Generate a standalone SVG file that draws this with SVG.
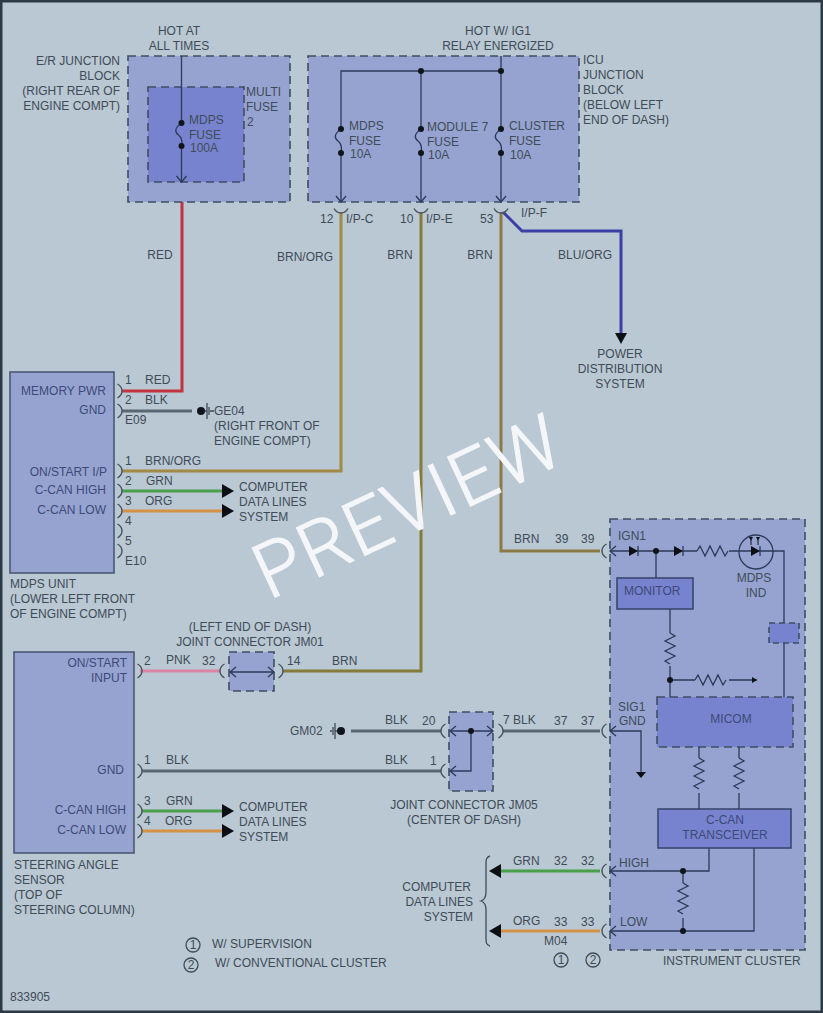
<svg xmlns="http://www.w3.org/2000/svg" width="823" height="1013" viewBox="0 0 823 1013">
<style>
text{font-family:"Liberation Sans",Arial,sans-serif;font-size:12px;fill:#3f4b58}
.b{fill:#3d4a78}
.m{text-anchor:middle}
.e{text-anchor:end}
.o{fill:#96a3d0;stroke:#3f4d63;stroke-width:1.6;stroke-dasharray:8 5}
.i{fill:#7783cf;stroke:#3f4d63;stroke-width:1.6;stroke-dasharray:8 5}
.s{fill:#96a3d0;stroke:#4a5873;stroke-width:1.6}
.x{fill:#7783cf;stroke:#3a4870;stroke-width:1.6}
.l{fill:none;stroke:#2c3a58;stroke-width:1.3}
.c{fill:none;stroke:#46525e;stroke-width:1.4}
.w{fill:none;stroke-width:3}
.d{fill:#10151d}
.a{fill:#0c1014}
.t{fill:none;stroke:#3f4b58;stroke-width:1.3}
</style>
<defs>
<path id="capL" class="c" d="M3.500 -7C0 -5 -1 -2 -1 0C-1 2 0 5 3.500 7"/>
<path id="capR" class="c" d="M-3.500 -7C0 -5 1 -2 1 0C1 2 0 5 -3.500 7"/>
<path id="cup" class="c" d="M-7 -3.500C-5 0 -2 1 0 1C2 1 5 0 7 -3.500"/>
<path id="chD" class="l" d="M-5 -6L0 0L5 -6"/>
<path id="chL" class="l" d="M6 -5L0 0L6 5"/>
<path id="chR" class="l" d="M-6 -5L0 0L-6 5"/>
<path id="fuse" class="l" d="M0 0C-7 5 -7 9 -3 12C1 15 1 19 0 24"/>
<path id="resH" class="l" d="M0 0l3 -5l5 10l5 -10l5 10l5 -10l5 10l3 -5"/>
<path id="resV" class="l" d="M0 0l5 3l-10 5l10 5l-10 5l10 5l-10 5l5 3"/>
<path id="arR" class="a" d="M0 -7L12 0L0 7Z"/>
<path id="arL" class="a" d="M0 -7L-12 0L0 7Z"/>
</defs>
<rect x="1" y="1" width="821" height="1011" fill="#b9c8d2" stroke="#2d3945" stroke-width="3"/>

<g id="connectors">
<path class="w" stroke="#c0333f" d="M182 192V391H122"/>
<path class="w" stroke="#a08a45" d="M341 212V471H122"/>
<path class="w" stroke="#857b3a" d="M421 212V671H283"/>
<path class="w" stroke="#8c7a45" d="M501 212V551H600"/>
<path class="w" stroke="#3b3fa5" d="M503 212L522 231H621V334"/>
<path class="w" stroke="#5a6670" d="M122 411H192"/>
<path class="w" stroke="#4aa04a" d="M122 491H222"/>
<path class="w" stroke="#d39245" d="M122 511H222"/>
<path class="w" stroke="#d884a5" d="M140 671H220"/>
<path class="w" stroke="#5a6670" d="M351 731H441"/>
<path class="w" stroke="#5a6670" d="M142 771H441"/>
<path class="w" stroke="#5a6670" d="M503 731H600"/>
<path class="w" stroke="#4aa04a" d="M142 811H222"/>
<path class="w" stroke="#d39245" d="M142 831H222"/>
<path class="w" stroke="#4aa04a" d="M501 871H600"/>
<path class="w" stroke="#d39245" d="M501 931H600"/>
<use href="#arR" x="222" y="491"/><use href="#arR" x="222" y="511"/>
<use href="#arR" x="222" y="811"/><use href="#arR" x="222" y="831"/>
<use href="#arL" x="501" y="871"/><use href="#arL" x="501" y="931"/>
<path class="a" d="M615 333H627L621 344Z"/>
<use href="#capR" x="121" y="391"/><use href="#capR" x="121" y="411"/>
<use href="#capR" x="121" y="471"/><use href="#capR" x="121" y="491"/><use href="#capR" x="121" y="511"/><use href="#capR" x="121" y="531"/><use href="#capR" x="121" y="551"/>
<use href="#capR" x="141" y="671"/><use href="#capR" x="141" y="771"/><use href="#capR" x="141" y="811"/><use href="#capR" x="141" y="831"/>
<use href="#capL" x="221" y="671"/><use href="#capR" x="282" y="671"/>
<use href="#capL" x="442" y="731"/><use href="#capL" x="442" y="771"/><use href="#capR" x="502" y="731"/>
<use href="#capL" x="603" y="551"/><use href="#capL" x="603" y="731"/><use href="#capL" x="603" y="871"/><use href="#capL" x="603" y="931"/>
<use href="#cup" x="182" y="192"/><use href="#cup" x="341" y="212"/><use href="#cup" x="421" y="212"/><use href="#cup" x="501" y="212"/>
</g>

<g id="er-junction-block">
<rect class="o" x="128" y="56" width="162" height="146"/>
<rect class="i" x="148" y="87" width="96" height="95"/>
<path class="l" d="M181.500 56V123M181.500 146V182"/>
<use href="#fuse" x="181.500" y="123"/><use href="#chD" x="181.500" y="182"/>
<circle class="d" cx="181.500" cy="123" r="3"/><circle class="d" cx="181.500" cy="146" r="3"/>
<text x="189" y="124">MDPS</text><text x="189" y="139">FUSE</text><text x="190" y="152">100A</text>
<text x="246" y="96">MULTI</text><text x="246" y="111">FUSE</text><text x="247" y="126">2</text>
<text class="e" x="120" y="65">E/R JUNCTION</text><text class="e" x="120" y="80">BLOCK</text><text class="e" x="120" y="95">(RIGHT REAR OF</text><text class="e" x="120" y="110">ENGINE COMPT)</text>
<text class="m" x="179" y="35">HOT AT</text><text class="m" x="179" y="50">ALL TIMES</text>
</g>

<g id="icu-junction-block">
<rect class="o" x="308" y="56" width="271" height="146"/>
<path class="l" d="M501 56V129M341 202V153M341 129V71H501M421 71V129M421 153V202M501 153V202"/>
<use href="#fuse" x="341" y="129"/><use href="#fuse" x="421" y="129"/><use href="#fuse" x="501" y="129"/>
<use href="#chD" x="341" y="202"/><use href="#chD" x="421" y="202"/><use href="#chD" x="501" y="202"/>
<circle class="d" cx="421" cy="71" r="3"/><circle class="d" cx="501" cy="71" r="3"/>
<circle class="d" cx="341" cy="129" r="3"/><circle class="d" cx="341" cy="153" r="3"/><circle class="d" cx="421" cy="129" r="3"/><circle class="d" cx="421" cy="153" r="3"/><circle class="d" cx="501" cy="129" r="3"/><circle class="d" cx="501" cy="153" r="3"/>
<text x="349" y="130">MDPS</text><text x="349" y="145">FUSE</text><text x="350" y="158">10A</text>
<text x="427" y="131">MODULE 7</text><text x="427" y="146">FUSE</text><text x="428" y="159">10A</text>
<text x="509" y="130">CLUSTER</text><text x="509" y="145">FUSE</text><text x="510" y="159">10A</text>
<text x="583" y="64">ICU</text><text x="583" y="79">JUNCTION</text><text x="583" y="94">BLOCK</text><text x="583" y="109">(BELOW LEFT</text><text x="583" y="124">END OF DASH)</text>
<text class="m" x="498" y="35">HOT W/ IG1</text><text class="m" x="498" y="50">RELAY ENERGIZED</text>
<text x="320" y="223">12</text><text x="346" y="223">I/P-C</text><text x="400" y="223">10</text><text x="426" y="223">I/P-E</text><text x="480" y="223">53</text><text x="521" y="217">I/P-F</text>
</g>

<g id="wire-labels">
<text class="m" x="160" y="259">RED</text><text class="m" x="305" y="261">BRN/ORG</text><text class="m" x="400" y="259">BRN</text><text class="m" x="480" y="259">BRN</text><text class="m" x="585" y="259">BLU/ORG</text>
<text class="m" x="620" y="358">POWER</text><text class="m" x="620" y="373">DISTRIBUTION</text><text class="m" x="620" y="388">SYSTEM</text>
<text x="514" y="543">BRN</text><text x="555" y="543">39</text><text x="581" y="543">39</text>
</g>

<g id="mdps-unit">
<rect class="s" x="10" y="372" width="104" height="201"/>
<text class="e b" x="106" y="395">MEMORY PWR</text><text class="e b" x="106" y="414">GND</text><text class="e b" x="107" y="476">ON/START I/P</text><text class="e b" x="106" y="494">C-CAN HIGH</text><text class="e b" x="106" y="514">C-CAN LOW</text>
<text x="10" y="588">MDPS UNIT</text><text x="10" y="603">(LOWER LEFT FRONT</text><text x="10" y="618">OF ENGINE COMPT)</text>
<text x="125" y="384">1</text><text x="145" y="384">RED</text><text x="125" y="404">2</text><text x="145" y="404">BLK</text><text x="125" y="424">E09</text>
<text x="125" y="465">1</text><text x="145" y="465">BRN/ORG</text><text x="125" y="485">2</text><text x="146" y="485">GRN</text><text x="125" y="505">3</text><text x="145" y="505">ORG</text><text x="125" y="525">4</text><text x="125" y="545">5</text><text x="125" y="565">E10</text>
<text x="239" y="491">COMPUTER</text><text x="239" y="506">DATA LINES</text><text x="239" y="521">SYSTEM</text>
</g>

<g id="ground-ge04">
<circle class="d" cx="201" cy="411" r="4"/>
<path class="t" d="M205 411H207M207 403V419M209 407V415M210 411H214"/>
<text x="214" y="415">GE04</text><text x="214" y="430">(RIGHT FRONT OF</text><text x="214" y="445">ENGINE COMPT)</text>
</g>

<g id="steering-angle-sensor">
<rect class="s" x="14" y="652" width="120" height="201"/>
<text class="e b" x="127" y="667">ON/START</text><text class="e b" x="127" y="682">INPUT</text><text class="e b" x="124" y="774">GND</text><text class="e b" x="126" y="814">C-CAN HIGH</text><text class="e b" x="126" y="834">C-CAN LOW</text>
<text x="14" y="869">STEERING ANGLE</text><text x="14" y="884">SENSOR</text><text x="14" y="899">(TOP OF</text><text x="14" y="914">STEERING COLUMN)</text>
<text x="144" y="665">2</text><text x="166" y="664">PNK</text><text x="202" y="665">32</text>
<text x="144" y="764">1</text><text x="166" y="764">BLK</text><text x="144" y="805">3</text><text x="166" y="805">GRN</text><text x="144" y="825">4</text><text x="165" y="825">ORG</text>
<text x="239" y="811">COMPUTER</text><text x="239" y="826">DATA LINES</text><text x="239" y="841">SYSTEM</text>
</g>

<g id="joint-connector-jm01">
<rect class="o" x="229" y="652" width="45" height="39"/>
<path class="l" d="M230 672H274"/><use href="#chL" x="230" y="672"/><use href="#chR" x="274" y="672"/>
<text class="m" x="250" y="631">(LEFT END OF DASH)</text><text class="m" x="250" y="646">JOINT CONNECTOR JM01</text>
<text x="287" y="665">14</text><text x="332" y="665">BRN</text>
</g>

<g id="ground-gm02">
<circle class="d" cx="341" cy="731" r="4"/>
<path class="t" d="M337 731H335M335 723V739M333 727V735M332 731H330"/>
<text x="290" y="735">GM02</text>
</g>

<g id="joint-connector-jm05">
<rect class="o" x="449" y="712" width="44" height="79"/>
<path class="l" d="M450 731H493M471 731V771H450"/>
<use href="#chL" x="450" y="731"/><use href="#chR" x="493" y="731"/><use href="#chL" x="450" y="771"/>
<circle class="d" cx="471" cy="731" r="3"/>
<text x="385" y="724">BLK</text><text x="422" y="725">20</text><text x="385" y="764">BLK</text><text x="430" y="765">1</text>
<text x="503" y="724">7 BLK</text><text x="554" y="725">37</text><text x="581" y="725">37</text>
<text class="m" x="464" y="809">JOINT CONNECTOR JM05</text><text class="m" x="464" y="824">(CENTER OF DASH)</text>
</g>

<g id="computer-data-lines-right">
<path class="t" d="M490 856C486 857 486 860 486 864V892C486 897 484 900 481 901C484 902 486 905 486 910V938C486 942 486 945 490 946"/>
<text class="e" x="471" y="891">COMPUTER</text><text class="e" x="473" y="906">DATA LINES</text><text class="e" x="473" y="921">SYSTEM</text>
<text x="513" y="865">GRN</text><text x="554" y="865">32</text><text x="581" y="865">32</text>
<text x="513" y="925">ORG</text><text x="554" y="926">33</text><text x="581" y="926">33</text>
<text x="544" y="945">M04</text>
<circle class="t" cx="561" cy="960" r="7"/><text class="m" x="561" y="964">1</text>
<circle class="t" cx="593" cy="960" r="7"/><text class="m" x="593" y="964">2</text>
</g>

<g id="instrument-cluster">
<rect class="o" x="610" y="519" width="195" height="431"/>
<rect class="x" x="617" y="578" width="76" height="31"/>
<rect class="i" x="657" y="697" width="136" height="50"/>
<rect class="x" x="658" y="809" width="133" height="39"/>
<rect class="i" x="769" y="623" width="30" height="20" style="stroke-dasharray:6 4"/>
<path class="l" d="M610 551H697M729 551H784V623M784 643V697M656 551V578M670 609V633M670 666V697M670 680H695M729 680H757M610 731H641V772M699 747V758M699 793V809M739 747V758M739 793V809M709 848V871H610M754 848V931H610M683 871V883M683 918V931"/>
<use href="#chL" x="610" y="551"/><use href="#chL" x="610" y="731"/><use href="#chL" x="610" y="871"/><use href="#chL" x="610" y="931"/>
<use href="#resH" x="697" y="551"/><use href="#resH" x="695" y="680"/>
<use href="#resV" x="670" y="633"/><use href="#resV" x="699" y="758"/><use href="#resV" x="739" y="758"/><use href="#resV" x="683" y="883"/>
<path class="a" d="M629 546L638 551L629 556Z"/><path class="a" d="M674 546L683 551L674 556Z"/><path class="a" d="M751 546L760 551L751 556Z"/>
<path class="l" d="M638 546V556M683 546V556M760 546V556"/>
<circle class="l" cx="756" cy="552" r="17"/>
<path class="a" d="M751 541L753 537H749ZM758 541L760 537H756Z"/><path class="l" d="M751 545V540M758 545V540"/>
<path class="a" d="M752 677L757 680L752 683Z"/>
<path class="a" d="M636 772H646L641 778Z"/>
<circle class="d" cx="656" cy="551" r="3"/><circle class="d" cx="670" cy="680" r="3"/><circle class="d" cx="683" cy="871" r="3"/><circle class="d" cx="683" cy="931" r="3"/>
<text x="618" y="540">IGN1</text>
<text class="b" x="624" y="595">MONITOR</text>
<text class="m" x="754" y="582">MDPS</text><text class="m" x="756" y="597">IND</text>
<text x="618" y="711">SIG1</text><text x="619" y="725">GND</text>
<text class="m b" x="731" y="723">MICOM</text>
<text class="m b" x="725" y="824">C-CAN</text><text class="m b" x="725" y="839">TRANSCEIVER</text>
<text x="619" y="867">HIGH</text><text x="620" y="926">LOW</text>
<text x="663" y="965">INSTRUMENT CLUSTER</text>
</g>

<g id="legend">
<circle class="t" cx="193" cy="945" r="7"/><text class="m" x="193" y="949">1</text>
<circle class="t" cx="191" cy="965" r="7"/><text class="m" x="191" y="969">2</text>
<text x="212" y="948">W/ SUPERVISION</text><text x="215" y="967">W/ CONVENTIONAL CLUSTER</text>
<text x="10" y="1001">833905</text>
</g>

<text transform="translate(269 600) rotate(-25)" style="font-family:Roboto,'Liberation Sans',sans-serif;font-weight:300;font-size:76px;letter-spacing:2px;fill:#f4f6f9;stroke:#f4f6f9;stroke-width:1.2">PREVIEW</text>
</svg>
